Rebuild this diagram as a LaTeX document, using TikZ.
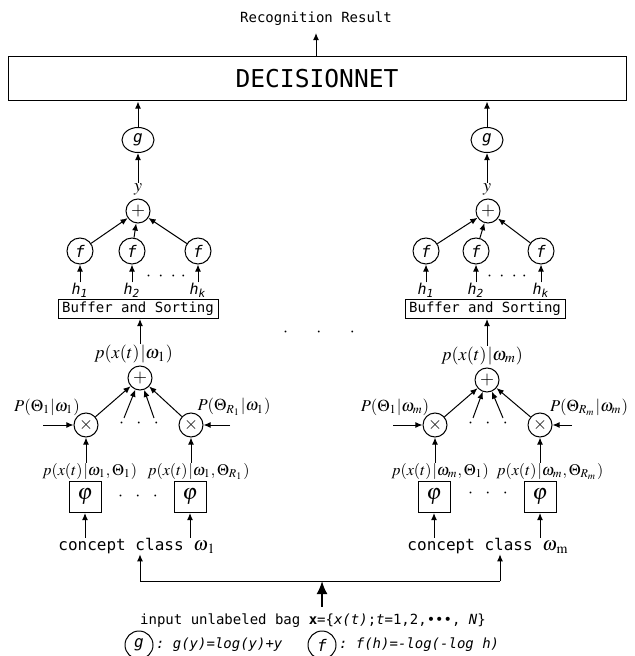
\documentclass[tikz,border=0pt]{standalone}
\usepackage{mathptmx}
\usepackage{fontspec}
\setmonofont{DejaVu Sans Mono}
\usetikzlibrary{arrows.meta, positioning, shapes.geometric}

\newcommand{\monoit}{\ttfamily\itshape}

\begin{document}
\begin{tikzpicture}[
        x=0.5pt, y=-0.5pt, line width=0.5pt,
        every node/.style={font=\fontsize{7}{8}\ttfamily},
        mlabel/.style={inner sep=0pt, font=\fontsize{9}{10}\selectfont},
        plabel/.style={inner sep=0pt, font=\fontsize{8.3}{10}\selectfont},
        qlabel/.style={inner sep=0pt, font=\fontsize{8}{10}\selectfont},
        opcirc/.style={draw, circle, inner sep=0pt, minimum size=12pt, font=\fontsize{9}{9}\selectfont},
        fcirc/.style={draw, circle, inner sep=0pt, minimum size=13pt, font=\fontsize{8}{8}\monoit},
        gcirc/.style={draw, ellipse, inner sep=0pt, minimum width=16pt, minimum height=12.5pt, font=\fontsize{8}{8}\monoit},
        phibox/.style={draw, minimum width=16pt, minimum height=15.5pt, inner sep=0pt, font=\fontsize{11}{11}\selectfont},
        bufbox/.style={draw, minimum width=80pt, minimum height=9.5pt, inner sep=0pt},
        hlabel/.style={inner sep=0pt, font=\fontsize{7.5}{8}\monoit},
        cclabel/.style={inner sep=0pt, font=\fontsize{8}{9}\ttfamily},
        dotrow/.style={inner sep=0pt, font=\fontsize{9}{9}\selectfont},
        arr/.style={-{Latex[length=3.6pt, width=3pt]}},
        bigarr/.style={-{Latex[length=6.5pt, width=5.5pt]}, line width=1pt}
    ]
    \useasboundingbox (0,0) rectangle (634,656);

    % top
    \node (res) at (316,19) {Recognition Result};
    \node[draw, minimum width=309pt, minimum height=22pt, font=\fontsize{12.3}{13}\ttfamily] (dnet) at (317,79) {DECISIONNET};
    \draw[arr] (dnet.north -| res) -- (res.south);

    % left column, class omega_1
    \node[gcirc] (gA) at (138,140) {g};
    \node[mlabel] (yA) at (138,189) {$y$};
    \node[opcirc] (sA) at (138,211) {$+$};
    \node[fcirc] (fA1) at (80,251) {f};
    \node[fcirc] (fA2) at (132,251) {f};
    \node[fcirc] (fA3) at (198,251) {f};
    \node[hlabel, below=9pt of fA1] (hA1) {h\textsubscript{1}};
    \node[hlabel, below=9pt of fA2] (hA2) {h\textsubscript{2}};
    \node[hlabel, below=9pt of fA3] (hAk) {h\textsubscript{k}};
    \node[dotrow] (dA) at (166,277) {$\cdot\hspace{2.5pt}\cdot\hspace{2.5pt}\cdot\hspace{2.5pt}\cdot$};
    \node[bufbox] (bufA) at (138,309) {Buffer and Sorting};
    \node[opcirc] (tA) at (140,378) {$+$};
    \node[mlabel, anchor=base east] (pAl) at (140,358) {$p(x(t)$};
    \node[mlabel, anchor=base west] (pAr) at (140,358) {$|\omega_1)$};
    \node[opcirc] (xA1) at (86,425) {$\times$};
    \node[opcirc] (xA2) at (191,425) {$\times$};
    \node[plabel] (wA1) at (47,407) {$P(\Theta_1|\omega_1)$};
    \node[plabel] (wA2) at (234,407) {$P(\Theta_{R_1}|\omega_1)$};
    \coordinate (cA1) at (43,425);
    \coordinate (cA2) at (230,425);
    \coordinate (mA1) at (124,418);
    \coordinate (mA2) at (154,418);
    \node[dotrow] (eA) at (139,424) {$\cdot\hspace{5pt}\cdot\hspace{5pt}\cdot$};
    \node[phibox] (phiA1) at (85,497) {$\varphi$};
    \node[phibox] (phiA2) at (190,497) {$\varphi$};
    \node[qlabel, anchor=base east] (qA1l) at (83,475) {$p(x(t)$};
    \node[qlabel, anchor=base west] (qA1r) at (83,475) {$|\omega_1,\Theta_1)$};
    \node[qlabel, anchor=base east] (qA2l) at (188,475) {$p(x(t)$};
    \node[qlabel, anchor=base west] (qA2r) at (188,475) {$|\omega_1,\Theta_{R_1})$};
    \node[dotrow] (rA) at (138,497) {$\cdot\hspace{5pt}\cdot\hspace{5pt}\cdot$};
    \node[cclabel] (ccA) at (137,546) {concept class {\fontsize{9.5}{10}\selectfont$\omega_{\hspace{0.6pt}\mathrm{1}}$}};

    \draw[arr] (gA) -- (gA |- dnet.south);
    \draw[arr] (yA.north) -- (gA);
    \draw[arr] (fA1) -- (sA);
    \draw[arr] (fA2) -- (sA);
    \draw[arr] (fA3) -- (sA);
    \draw[arr] (hA1) -- (fA1);
    \draw[arr] (hA2) -- (fA2);
    \draw[arr] (hAk) -- (fA3);
    \draw[arr] (pAr.north west) -- (tA |- bufA.south);
    \draw[arr] (xA1) -- (tA);
    \draw[arr] (xA2) -- (tA);
    \draw[arr] (mA1) -- (tA);
    \draw[arr] (mA2) -- (tA);
    \draw[arr] (cA1) -- (xA1);
    \draw[arr] (cA2) -- (xA2);
    \draw[arr] (xA1 |- qA1r.north) -- (xA1);
    \draw[arr] (xA2 |- qA2r.north) -- (xA2);
    \draw[arr] (phiA1 |- ccA.north) -- (phiA1);
    \draw[arr] (phiA2 |- ccA.north) -- (phiA2);

    % right column, class omega_m
    \node[gcirc] (gB) at (487,140) {g};
    \node[mlabel] (yB) at (487,189) {$y$};
    \node[opcirc] (sB) at (488,211) {$+$};
    \node[fcirc] (fB1) at (426,251) {f};
    \node[fcirc] (fB2) at (476,251) {f};
    \node[fcirc] (fB3) at (541,251) {f};
    \node[hlabel, below=9pt of fB1] (hB1) {h\textsubscript{1}};
    \node[hlabel, below=9pt of fB2] (hB2) {h\textsubscript{2}};
    \node[hlabel, below=9pt of fB3] (hBk) {h\textsubscript{k}};
    \node[dotrow] (dB) at (507,277) {$\cdot\hspace{2.5pt}\cdot\hspace{2.5pt}\cdot\hspace{2.5pt}\cdot$};
    \node[bufbox] (bufB) at (485,309) {Buffer and Sorting};
    \node[opcirc] (tB) at (487,380) {$+$};
    \node[mlabel, anchor=base east] (pBl) at (487,360) {$p(x(t)$};
    \node[mlabel, anchor=base west] (pBr) at (487,360) {$|\omega_m)$};
    \node[opcirc] (xB1) at (435,425) {$\times$};
    \node[opcirc] (xB2) at (540,425) {$\times$};
    \node[plabel] (wB1) at (395,407) {$P(\Theta_1|\omega_m)$};
    \node[plabel] (wB2) at (589,407) {$P(\Theta_{R_m}|\omega_m)$};
    \coordinate (cB1) at (393,425);
    \coordinate (cB2) at (572,425);
    \coordinate (mB1) at (473,418);
    \coordinate (mB2) at (503,418);
    \node[dotrow] (eB) at (488,424) {$\cdot\hspace{5pt}\cdot\hspace{5pt}\cdot$};
    \node[phibox] (phiB1) at (434,497) {$\varphi$};
    \node[phibox] (phiB2) at (540,497) {$\varphi$};
    \node[qlabel, anchor=base east] (qB1l) at (432,475) {$p(x(t)$};
    \node[qlabel, anchor=base west] (qB1r) at (432,475) {$|\omega_m,\Theta_1)$};
    \node[qlabel, anchor=base east] (qB2l) at (537,475) {$p(x(t)$};
    \node[qlabel, anchor=base west] (qB2r) at (537,475) {$|\omega_m,\Theta_{R_m})$};
    \node[dotrow] (rB) at (488,494) {$\cdot\hspace{5pt}\cdot\hspace{5pt}\cdot$};
    \node[cclabel] (ccB) at (488,546) {concept class {\fontsize{9.5}{10}\selectfont$\omega_{\hspace{0.6pt}\mathrm{m}}$}};

    \draw[arr] (gB) -- (gB |- dnet.south);
    \draw[arr] (yB.north) -- (gB);
    \draw[arr] (fB1) -- (sB);
    \draw[arr] (fB2) -- (sB);
    \draw[arr] (fB3) -- (sB);
    \draw[arr] (hB1) -- (fB1);
    \draw[arr] (hB2) -- (fB2);
    \draw[arr] (hBk) -- (fB3);
    \draw[arr] (pBr.north west) -- (tB |- bufB.south);
    \draw[arr] (xB1) -- (tB);
    \draw[arr] (xB2) -- (tB);
    \draw[arr] (mB1) -- (tB);
    \draw[arr] (mB2) -- (tB);
    \draw[arr] (cB1) -- (xB1);
    \draw[arr] (cB2) -- (xB2);
    \draw[arr] (xB1 |- qB1r.north) -- (xB1);
    \draw[arr] (xB2 |- qB2r.north) -- (xB2);
    \draw[arr] (phiB1 |- ccB.north) -- (phiB1);
    \draw[arr] (phiB2 |- ccB.north) -- (phiB2);

    % between the columns
    \node[dotrow] (dmid) at (319,333) {$\cdot\hspace{13pt}\cdot\hspace{13pt}\cdot$};

    % input bag
    \coordinate (kA) at (140,581);
    \coordinate (kB) at (500,581);
    \coordinate (km) at (322,581);
    \node (inp) at (313,621) {input unlabeled bag \textbf{x}=\{\textit{x(t)};\textit{t}=1,2,\textbullet\textbullet\textbullet, \textit{N}\}};
    \draw (kA) -- (kB);
    \draw[arr] (kA) -- (kA |- ccA.south);
    \draw[arr] (kB) -- (kB |- ccB.south);
    \draw[bigarr] (inp.north -| km) -- (km);

    % legend
    \node[fcirc, minimum size=14pt] (lg) at (139,645) {g};
    \node[right=1pt of lg, inner sep=0pt, font=\fontsize{7}{8}\monoit] (lgt) {: g(y)=log(y)+y};
    \node[fcirc, minimum size=14pt] (lf) at (322,645) {f};
    \node[right=1pt of lf, inner sep=0pt, font=\fontsize{7}{8}\monoit] (lft) {: f(h)=-log(-log h)};
\end{tikzpicture}
\end{document}
